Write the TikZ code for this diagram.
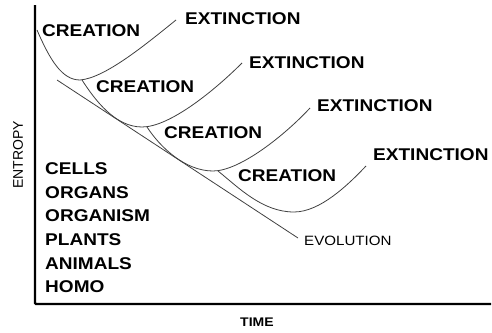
\documentclass[tikz,border=0pt]{standalone}
\usepackage{fontspec}
\newfontfamily\labfont[FakeStretch=1.12]{Liberation Sans}
\newfontfamily\plainfont{Liberation Sans}
\begin{document}
\begin{tikzpicture}[x=1pt,y=-1pt,
  lab/.style={font=\labfont\bfseries\fontsize{17}{17}\selectfont, inner sep=0pt, anchor=west},
  small/.style={font=\labfont\fontsize{13.5}{13.5}\selectfont, inner sep=0pt, anchor=west},
  curve/.style={line width=0.8pt, black!75},
  axis/.style={line width=2.4pt, black, rounded corners=1pt}]
\useasboundingbox (0,0) rectangle (492,332);
% axes
\coordinate (ytop) at (35,5);
\coordinate (orig) at (35,304);
\coordinate (xend) at (491,304);
\draw[axis] (ytop) -- (orig) -- (xend);
\node[font=\plainfont\fontsize{14}{14}\selectfont, inner sep=0pt, rotate=90] (entropy) at (18,155) {ENTROPY};
\node[lab, font=\labfont\bfseries\fontsize{12.5}{12.5}\selectfont] (time) at (240,322) {TIME};
% labels
\node[lab] (cr1) at (42,31) {CREATION};
\node[lab] (ex1) at (185,19) {EXTINCTION};
\node[lab] (cr2) at (96,87) {CREATION};
\node[lab] (ex2) at (249,63) {EXTINCTION};
\node[lab] (cr3) at (164,133) {CREATION};
\node[lab] (ex3) at (317,106) {EXTINCTION};
\node[lab] (cr4) at (238,176) {CREATION};
\node[lab] (ex4) at (373,155) {EXTINCTION};
\node[small] (evo) at (304,241) {EVOLUTION};
% list
\node[lab] (l1) at (45,168.5) {CELLS};
\node[lab] (l2) at (45,192.2) {ORGANS};
\node[lab] (l3) at (45,215.9) {ORGANISM};
\node[lab] (l4) at (45,239.6) {PLANTS};
\node[lab] (l5) at (45,263.3) {ANIMALS};
\node[lab] (l6) at (45,287) {HOMO};
% curve points
\coordinate (s1) at (37,30);  \coordinate (m1) at (80,80);   \coordinate (e1) at (176,20);
\coordinate (s2) at (82,80);  \coordinate (m2) at (142,127); \coordinate (e2) at (242,63);
\coordinate (s3) at (147,127);\coordinate (m3) at (213,171); \coordinate (e3) at (310,108);
\coordinate (s4) at (218,171);\coordinate (m4) at (294,212); \coordinate (e4) at (366,166);
\coordinate (v1) at (57,80);  \coordinate (v2) at (298,238);
% curves
\draw[curve] (s1) .. controls (50,60) and (62,80) .. (m1) .. controls (105,78) and (145,45) .. (e1);
\draw[curve] (s2) .. controls (95,100) and (115,127) .. (m2) .. controls (170,127) and (215,90) .. (e2);
\draw[curve] (s3) .. controls (160,147) and (185,171) .. (m3) .. controls (240,171) and (285,135) .. (e3);
\draw[curve] (s4) .. controls (238,187) and (262,212) .. (m4) .. controls (320,212) and (348,185) .. (e4);
\draw[curve] (v1) -- (v2);
\end{tikzpicture}
\end{document}
